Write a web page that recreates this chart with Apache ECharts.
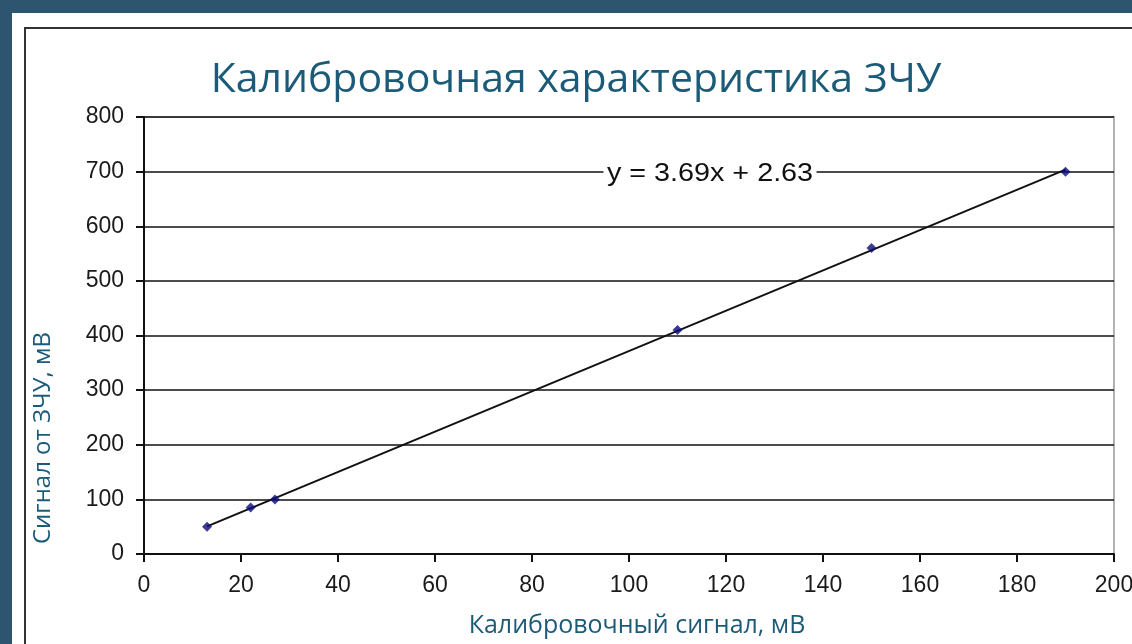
<!DOCTYPE html>
<html><head><meta charset="utf-8">
<script src="https://cdn.jsdelivr.net/npm/echarts@6/dist/echarts.min.js"></script>
<style>html,body{margin:0;padding:0;background:#2e5570}#c{width:1132px;height:644px}</style>
</head><body><div id="c"></div>
<script>
const xValues = [13, 22, 27, 110, 150, 190];
const yValues = [50, 85, 100, 410, 560, 700];
const trendSlope = 3.69;
const trendIntercept = 2.63;
const xTicks = [0, 20, 40, 60, 80, 100, 120, 140, 160, 180, 200];
const yTicks = [0, 100, 200, 300, 400, 500, 600, 700, 800];
const titleText = 'Калибровочная характеристика ЗЧУ';
const xName = 'Калибровочный сигнал, мВ';
const yName = 'Сигнал от ЗЧУ, мВ';
const eqText = 'y = 3.69x + 2.63';

const points = xValues.map((x, i) => [x, yValues[i]]);
const xMin = Math.min(...xValues), xMax = Math.max(...xValues);
const trend = [[xMin, trendSlope * xMin + trendIntercept], [xMax, trendSlope * xMax + trendIntercept]];

const chart = echarts.init(document.getElementById('c'), null, {renderer: 'canvas'});
const tickFont = '"Liberation Sans", Arial, sans-serif';
const textFont = '"Open Sans", sans-serif';
chart.setOption({
  backgroundColor: '#2e5570',
  animation: false,
  graphic: [
    {type: 'rect', z: -10, shape: {x: 12, y: 13, width: 1200, height: 700}, style: {fill: '#fff'}},
    {type: 'rect', z: -9, shape: {x: 25, y: 28, width: 1200, height: 700}, style: {fill: 'none', stroke: '#333', lineWidth: 2}},
    {type: 'text', z: 10, x: 576, y: 80, style: {text: titleText, font: '41px ' + textFont, fill: '#1b5b78', align: 'center', verticalAlign: 'middle'}},
    {type: 'text', z: 10, x: 637, y: 626, style: {text: xName, font: '25px ' + textFont, fill: '#1b5b78', align: 'center', verticalAlign: 'middle'}},
    {type: 'text', z: 10, x: 43, y: 438, rotation: Math.PI / 2, style: {text: yName, font: '24px ' + textFont, fill: '#1b5b78', align: 'center', verticalAlign: 'middle'}},
    {type: 'text', z: 10, x: 710, y: 174, scaleX: 1.15, style: {text: eqText, font: '25px ' + tickFont, fill: '#111', align: 'center', verticalAlign: 'middle', backgroundColor: '#fff', padding: [2, 3]}}
  ],
  grid: {left: 144, top: 117, right: 18, bottom: 90, outerBoundsMode: 'none', containLabel: false, show: true, borderColor: '#999', borderWidth: 1.5, backgroundColor: 'transparent'},
  xAxis: {
    type: 'value', min: xTicks[0], max: xTicks[xTicks.length - 1], interval: xTicks[1] - xTicks[0],
    axisLine: {show: true, onZero: false, lineStyle: {color: '#111', width: 2}},
    axisTick: {show: true, inside: false, length: 8, lineStyle: {color: '#111', width: 2}},
    axisLabel: {margin: 20, fontSize: 23, fontFamily: tickFont, color: '#1a1a1a', hideOverlap: false},
    splitLine: {show: false}
  },
  yAxis: {
    type: 'value', min: yTicks[0], max: yTicks[yTicks.length - 1], interval: yTicks[1] - yTicks[0],
    axisLine: {show: true, onZero: false, lineStyle: {color: '#111', width: 2}},
    axisTick: {show: true, inside: false, length: 8, lineStyle: {color: '#111', width: 2}},
    axisLabel: {margin: 20, fontSize: 23, fontFamily: tickFont, color: '#1a1a1a'},
    splitLine: {show: true, lineStyle: {color: '#111', width: 1.5}}
  },
  series: [
    {type: 'line', data: trend, symbol: 'none', lineStyle: {color: '#111', width: 2}, z: 3},
    {type: 'scatter', data: points, symbol: 'diamond', symbolSize: 10, itemStyle: {color: '#0b0b7a'}, z: 4}
  ]
});
</script></body></html>
